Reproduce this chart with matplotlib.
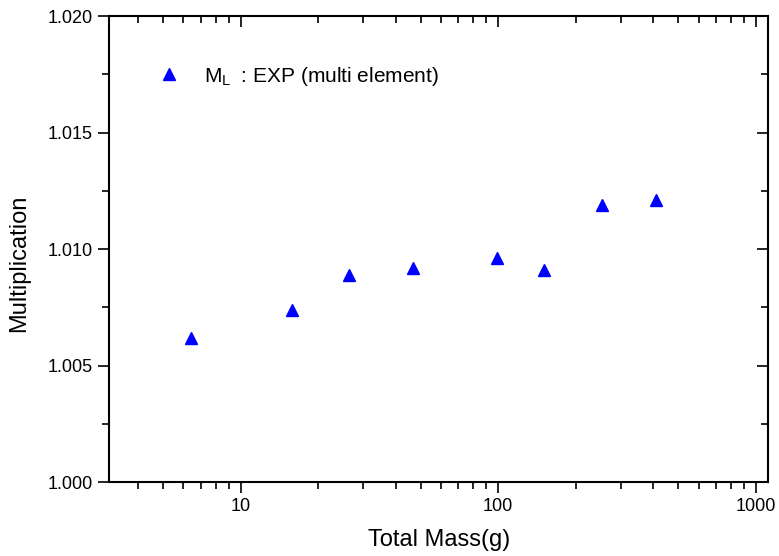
import numpy as np
import matplotlib
matplotlib.use("Agg")
import matplotlib.pyplot as plt
from matplotlib.ticker import MultipleLocator, LogLocator, NullFormatter, FixedLocator

plt.rcParams['font.family'] = ['Liberation Sans', 'DejaVu Sans']
plt.rcParams['mathtext.fontset'] = 'custom'
plt.rcParams['mathtext.rm'] = 'Liberation Sans'
plt.rcParams['mathtext.it'] = 'Liberation Sans'

# data
total_mass = [6.4, 15.9, 26.4, 46.7, 99.3, 151, 253, 410]
multiplication = [1.0062, 1.0074, 1.0089, 1.0092, 1.0096, 1.0091, 1.0119, 1.0121]
series_label = 'M$_{\\mathrm{L}}\\;$ : EXP (multi element)'
x_ticks = [10, 100, 1000]
x_ticklabels = ['10', '100', '1000']

fig = plt.figure(figsize=(7.79, 5.56), dpi=100)
ax = fig.add_axes([0.140, 0.133, 0.846, 0.838])

ax.plot(total_mass, multiplication, linestyle='none', marker='^', ms=9,
        color='#0000ff', label=series_label)

ax.set_xscale('log')
ax.set_xlim(3.09, 1115)
ax.set_ylim(1.000, 1.020)

ax.xaxis.set_major_locator(FixedLocator(x_ticks))
ax.set_xticklabels(x_ticklabels)
ax.xaxis.set_minor_locator(LogLocator(base=10, subs=np.arange(2, 10)))
ax.xaxis.set_minor_formatter(NullFormatter())
ax.yaxis.set_major_locator(MultipleLocator(0.005))
ax.yaxis.set_minor_locator(MultipleLocator(0.0025))
ax.yaxis.set_major_formatter(plt.FormatStrFormatter('%.3f'))

for s in ax.spines.values():
    s.set_linewidth(1.5)
ax.tick_params(which='both', direction='out', width=1.2, labelsize=13)
ax.tick_params(which='major', length=8)
ax.tick_params(which='minor', length=5)

# mirrored ticks on top and right, pointing in
ax2 = fig.add_axes(ax.get_position(), frameon=False)
ax2.set_xscale('log')
ax2.set_xlim(ax.get_xlim())
ax2.set_ylim(ax.get_ylim())
ax2.xaxis.set_major_locator(FixedLocator(x_ticks))
ax2.xaxis.set_minor_locator(LogLocator(base=10, subs=np.arange(2, 10)))
ax2.yaxis.set_major_locator(MultipleLocator(0.005))
ax2.yaxis.set_minor_locator(MultipleLocator(0.0025))
ax2.tick_params(which='both', direction='in', width=1.2,
                bottom=False, left=False, top=True, right=True,
                labelbottom=False, labelleft=False)
ax2.tick_params(which='major', length=8)
ax2.tick_params(which='minor', length=5)

# axis titles
fig.text(439 / 779, 1 - 540 / 556, 'Total Mass(g)', fontsize=17,
         ha='center', va='center')
fig.text(19 / 779, 1 - 263 / 556, 'Multiplication', fontsize=17,
         ha='center', va='center', rotation=90)

ax.legend(loc='upper left', bbox_to_anchor=(0.031, 0.936), frameon=False,
          fontsize=15, handletextpad=0.7, numpoints=1)

fig.savefig('out.png', dpi=100)
